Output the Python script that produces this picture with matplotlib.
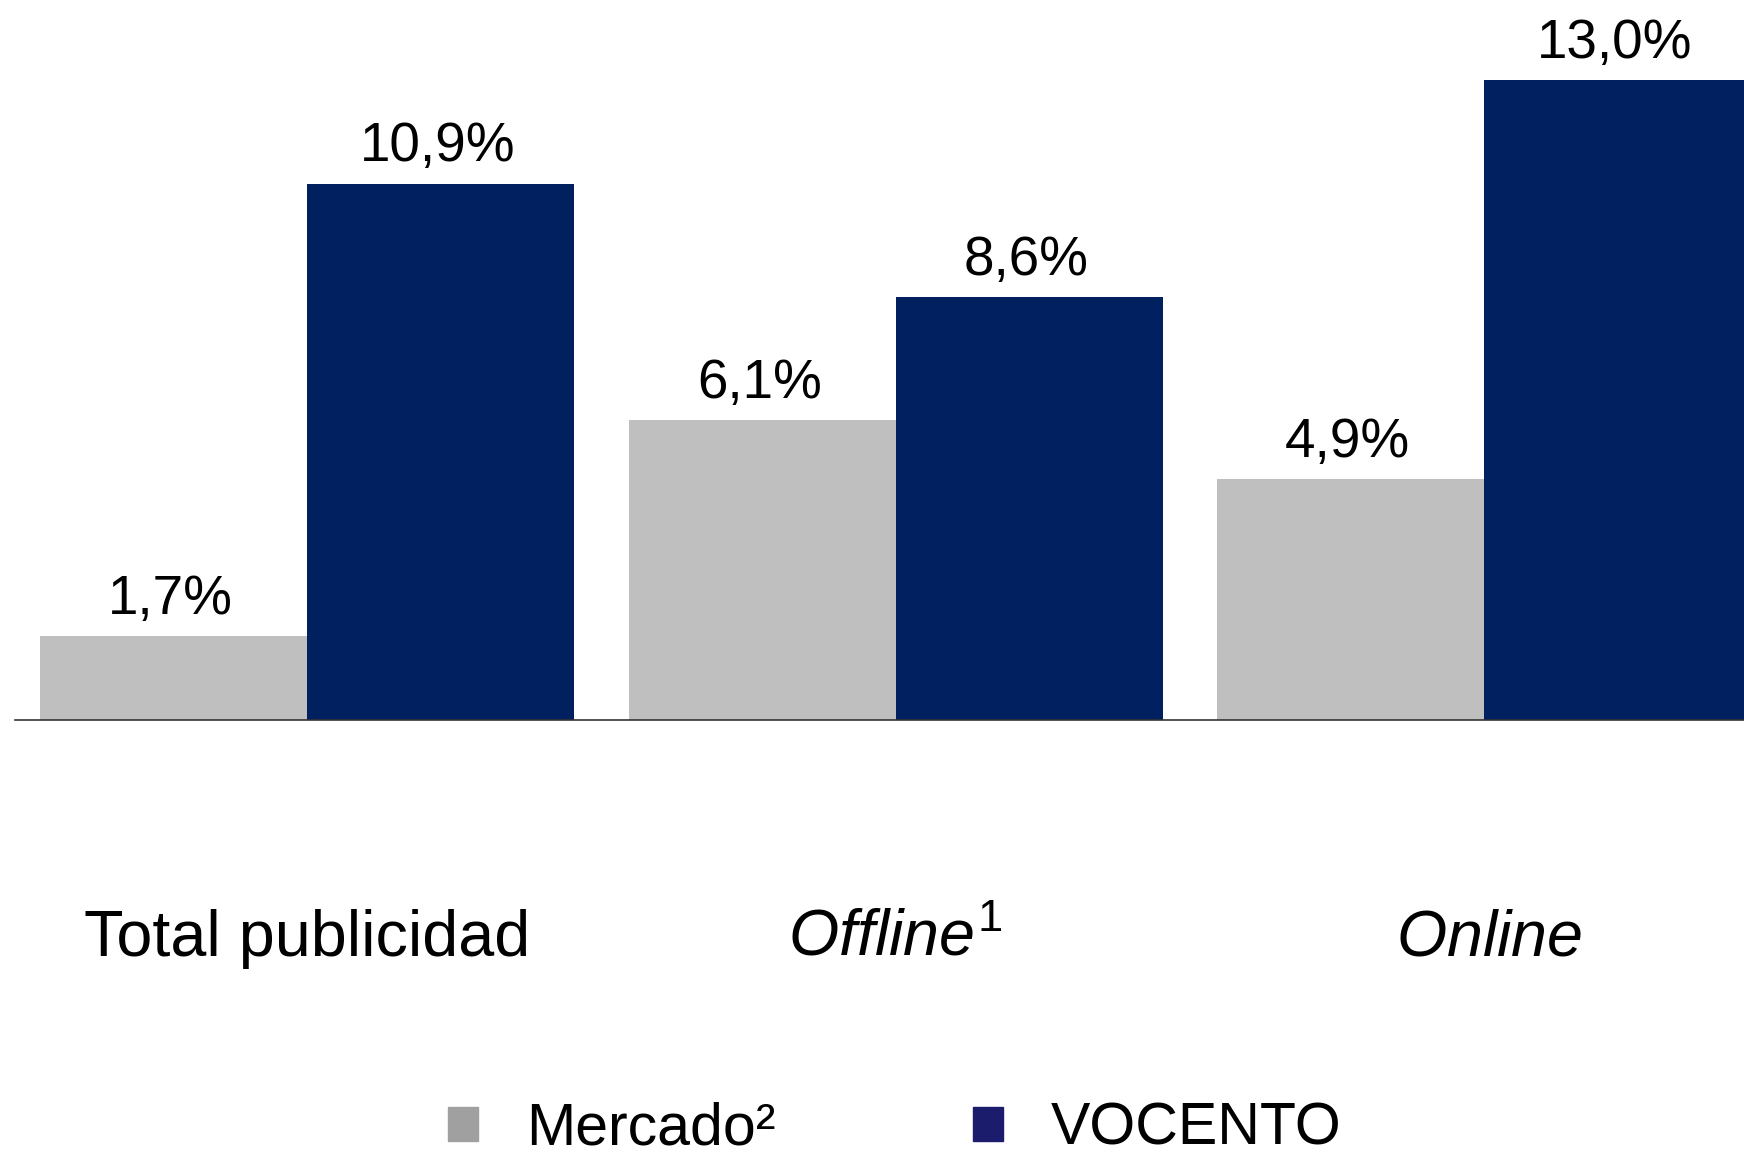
import matplotlib
matplotlib.use("Agg")
import matplotlib.pyplot as plt
from matplotlib.patches import Patch
import numpy as np

plt.rcParams['font.family'] = ['Liberation Sans', 'DejaVu Sans']
plt.rcParams['mathtext.fontset'] = 'custom'
plt.rcParams['mathtext.rm'] = 'Liberation Sans'
plt.rcParams['mathtext.it'] = 'Liberation Sans:italic'

categories = ["Total publicidad", r"$\mathit{Offline}^{1}$", r"$\mathit{Online}$"]
mercado = [1.7, 6.1, 4.9]
vocento = [10.9, 8.6, 13.0]
series_names = ["Mercado\u00b2", "VOCENTO"]

bar_gray = "#BFBFBF"
bar_navy = "#002060"
leg_gray = "#A0A0A0"
leg_navy = "#1C1C6C"

fig = plt.figure(figsize=(17.44, 11.54), dpi=100)
ax = fig.add_axes([0, 0, 1, 1])

x = np.arange(len(categories))
w = 0.4537
b1 = ax.bar(x - w / 2, mercado, w, color=bar_gray)
b2 = ax.bar(x + w / 2, vocento, w, color=bar_navy)

for bars, vals in ((b1, mercado), (b2, vocento)):
    for rect, v in zip(bars, vals):
        ax.annotate(f"{v:.1f}%".replace(".", ","),
                    (rect.get_x() + rect.get_width() / 2, v),
                    xytext=(-2, 16), textcoords="offset points",
                    ha="center", va="baseline", fontsize=39.5)

for xi, lab in zip(x, categories):
    ax.text(xi + (0.008 if xi == 2 else 0), -4.45, lab,
            ha="center", va="center", fontsize=46.5)

ax.axhline(0, xmin=15 / 1744, xmax=1, color="#333333", lw=1.2)

ax.set_xlim(-0.5217, 2.4418)
ax.set_ylim(-8.82, 14.63)
ax.axis("off")

handles = [Patch(color=leg_gray), Patch(color=leg_navy)]
ax.legend(handles, series_names, loc="center", bbox_to_anchor=(0.513, 0.0215),
          ncol=2, frameon=False, fontsize=42.5, handlelength=0.51, handleheight=0.51,
          handletextpad=0.81, columnspacing=3.35, borderaxespad=0)

fig.savefig("out.png", dpi=100)
